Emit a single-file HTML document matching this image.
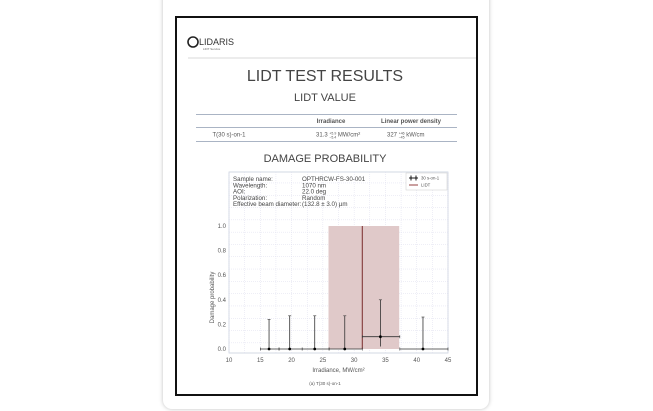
<!DOCTYPE html>
<html><head><meta charset="utf-8"><style>
body{margin:0;width:653px;height:411px;background:#fff;font-family:"Liberation Sans",sans-serif;overflow:hidden;position:relative}
.card{position:absolute;left:163px;top:-10px;width:326px;height:419px;border-radius:9px;box-shadow:0 0 4px rgba(0,0,0,.25);background:#fff}
.box{position:absolute;left:175px;top:16px;width:299px;height:376px;border:2px solid #111;background:#fff}
</style></head><body>
<div class="card"></div>
<div class="box"></div>
<svg width="653" height="411" style="position:absolute;left:0;top:0">
<g>
<circle cx="193" cy="42" r="5" fill="none" stroke="#222" stroke-width="1.6"/>
<text x="199" y="45" font-size="9" fill="#333">LIDARIS</text>
<text x="203" y="50" font-size="3" fill="#666">LIDT Service</text></g>
<line x1="188" y1="58" x2="476" y2="58" stroke="#ccc" stroke-width="0.8"/>
<text x="325" y="81" font-size="16" text-anchor="middle" fill="#444">LIDT TEST RESULTS</text>
<text x="325" y="101" font-size="11" text-anchor="middle" fill="#444">LIDT VALUE</text>
<g font-size="6" fill="#555">
<line x1="196" y1="114.5" x2="457" y2="114.5" stroke="#aab4c4"/>
<line x1="196" y1="127.5" x2="457" y2="127.5" stroke="#aab4c4"/>
<line x1="196" y1="141.5" x2="457" y2="141.5" stroke="#aab4c4"/>
<text x="331" y="123" text-anchor="middle" font-weight="bold">Irradiance</text>
<text x="411" y="123" text-anchor="middle" font-weight="bold">Linear power density</text>
<text x="229" y="136.5" text-anchor="middle">T(30 s)-on-1</text>
<text x="316" y="136.5">31.3 <tspan font-size="3.5" dy="-2">+5.9</tspan><tspan font-size="3.5" dx="-7" dy="4">−5.4</tspan><tspan dy="-2"> MW/cm²</tspan></text>
<text x="387" y="136.5">327 <tspan font-size="3.5" dy="-2">+46</tspan><tspan font-size="3.5" dx="-6" dy="4">−45</tspan><tspan dy="-2"> kW/cm</tspan></text>
</g>
<text x="325" y="162" font-size="11" text-anchor="middle" fill="#444">DAMAGE PROBABILITY</text>
<g id="chart"></g>
<text x="325" y="385" font-size="4.5" text-anchor="middle" fill="#555">(a) T(30 s)-on-1</text>
</svg>
<script>
const xs=[16.4,19.7,23.7,28.5,34.2,41];
const ys=[0,0,0,0,0.1,0];
const errUp=[0.24,0.27,0.27,0.27,0.30,0.26];
const errDown=[0,0,0,0,0.08,0];
const binLo=[15,18,21.7,26,31.3,37.3];
const binHi=[18,21.7,26,31.3,37.3,45];
const lidt=31.3, lidtLo=25.9, lidtHi=37.2;
const xTicks=[10,15,20,25,30,35,40,45];
const yTicks=[0,0.2,0.4,0.6,0.8,1.0];
const NS="http://www.w3.org/2000/svg";
const L=229,R=448,T=172,B=353;
const X=v=>L+(v-10)/35*(R-L);
const Y=v=>349-v*123;
const g=document.getElementById('chart');
function mk(t,a,p){const e=document.createElementNS(NS,t);for(const k in a)e.setAttribute(k,a[k]);(p||g).appendChild(e);return e;}
mk('rect',{x:L,y:T,width:R-L,height:B-T,fill:'#fff',stroke:'#c8d0dc','stroke-width':0.8});
for(let v=10;v<=45;v+=2.5){mk('line',{x1:X(v),x2:X(v),y1:T,y2:B,stroke:'#dde','stroke-dasharray':'1,1','stroke-width':0.5});}
for(let v=-0.05;v<=1.5;v+=0.1){if(Y(v)<T||Y(v)>B)continue;mk('line',{x1:L,x2:R,y1:Y(v),y2:Y(v),stroke:'#dde','stroke-dasharray':'1,1','stroke-width':0.5});}
const band=mk('rect',{x:X(lidtLo),y:Y(1),width:X(lidtHi)-X(lidtLo),height:Y(0)-Y(1),fill:'#e0c9c9'});


const ll=mk('line',{x1:X(lidt),x2:X(lidt),y1:Y(1),y2:Y(0),stroke:'#7a2a2a','stroke-width':1});


xTicks.forEach(v=>{const t=mk('text',{x:X(v),y:362,'font-size':6,'text-anchor':'middle',fill:'#555'});t.textContent=v;

});
yTicks.forEach(v=>{const t=mk('text',{x:L-3,y:Y(v)+2,'font-size':6,'text-anchor':'end',fill:'#555'});t.textContent=v.toFixed(1);

});
xs.forEach((x,i)=>{
const pg=mk('g',{});


const y=ys[i];
mk('line',{x1:X(binLo[i]),x2:X(binHi[i]),y1:Y(y),y2:Y(y),stroke:'#333','stroke-width':0.8},pg);
mk('line',{x1:X(binLo[i]),x2:X(binLo[i]),y1:Y(y)-1.5,y2:Y(y)+1.5,stroke:'#333','stroke-width':0.6},pg);
mk('line',{x1:X(binHi[i]),x2:X(binHi[i]),y1:Y(y)-1.5,y2:Y(y)+1.5,stroke:'#333','stroke-width':0.6},pg);
mk('line',{x1:X(x),x2:X(x),y1:Y(y+errUp[i]),y2:Y(y-errDown[i]),stroke:'#333','stroke-width':0.8},pg);
mk('line',{x1:X(x)-1.5,x2:X(x)+1.5,y1:Y(y+errUp[i]),y2:Y(y+errUp[i]),stroke:'#333','stroke-width':0.6},pg);
mk('circle',{cx:X(x),cy:Y(y),r:1.4,fill:'#000'},pg);
});
const xt=mk('text',{x:(L+R)/2,y:372,'font-size':6,'text-anchor':'middle',fill:'#555'});xt.textContent='Irradiance, MW/cm²';


const yt=mk('text',{x:0,y:0,'font-size':6,'text-anchor':'middle',fill:'#555',transform:`translate(214,${(Y(0)+Y(1))/2+10}) rotate(-90)`});yt.textContent='Damage probability';


const info=[['Sample name:','OPTHRCW-FS-30-001'],['Wavelength:','1070 nm'],['AOI:','22.0 deg'],['Polarization:','Random'],['Effective beam diameter:','(132.8 ± 3.0) µm']];
info.forEach((r,i)=>{const a=mk('text',{x:233,y:181+i*6.3,'font-size':6.2,fill:'#444'});a.textContent=r[0];


const b=mk('text',{x:302,y:181+i*6.3,'font-size':6.2,fill:'#444'});b.textContent=r[1];

});
const lg=mk('g',{});


mk('rect',{x:406,y:173,width:41,height:17,fill:'#fff',stroke:'#ccc','stroke-width':0.5},lg);
mk('line',{x1:409,x2:418,y1:178,y2:178,stroke:'#000','stroke-width':0.9},lg);
mk('line',{x1:411,x2:411,y1:175.5,y2:180.5,stroke:'#000','stroke-width':0.9},lg);
mk('line',{x1:416,x2:416,y1:175.5,y2:180.5,stroke:'#000','stroke-width':0.9},lg);
const l1=mk('text',{x:421,y:179.5,'font-size':4.3,fill:'#555'},lg);l1.textContent='30 s-on-1';
mk('line',{x1:409,x2:418,y1:185,y2:185,stroke:'#8a2a2a','stroke-width':0.9},lg);
const l2=mk('text',{x:421,y:186.5,'font-size':4.3,fill:'#555'},lg);l2.textContent='LIDT';
</script>
</body></html>
